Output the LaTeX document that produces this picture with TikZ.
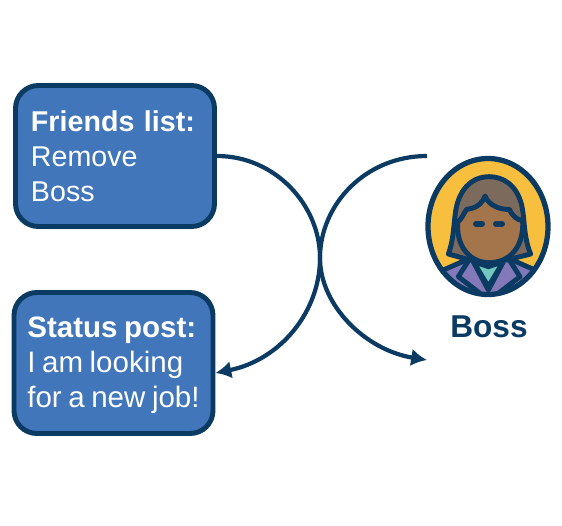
\documentclass[tikz,border=0pt]{standalone}
\usepackage{fontspec}
\setmainfont[WordSpace=0.8]{Liberation Sans}
\usetikzlibrary{arrows.meta, positioning, shapes.geometric}
\definecolor{navy}{HTML}{0B3A62}
\definecolor{boxblue}{HTML}{4176BB}
\definecolor{halo}{HTML}{F8BF3F}
\definecolor{hair}{HTML}{7C6A5C}
\definecolor{skin}{HTML}{A4754A}
\definecolor{jacket}{HTML}{8379B8}
\definecolor{shirt}{HTML}{72C8BF}
\newlength{\pxunit}
\setlength{\pxunit}{0.02cm}
\tikzset{
  msgbox/.style={draw=navy, fill=boxblue, line width=2.8pt, rounded corners=13pt, minimum width=199\pxunit, minimum height=141\pxunit,
    text=white, align=left, inner sep=0pt, font=\fontsize{16.3pt}{19.8pt}\selectfont},
  flow/.style={draw=navy, line width=2.4pt},
  facepart/.style={draw=navy, line width=2.8pt, line join=round}
}
\begin{document}
\begin{tikzpicture}[x=0.02cm, y=-0.02cm]
  \useasboundingbox (0,0) rectangle (562,525);
  \node[msgbox, text width=168\pxunit] (friends) at (115,156) {\textbf{Friends list:}\\Remove\\Boss};
  \node[msgbox, font=\fontsize{16.8pt}{19.8pt}\selectfont] (status) at (113.5,363) {\rule{0pt}{14.4pt}\textbf{Status post:}\\I am looking\\for a new job!};

  % face, drawn in the pixels of a 3x crop
  \coordinate (facecentre) at (488,226.5);
  \fill[halo] (facecentre) ellipse (60 and 68);
  \begin{scope}
    \clip (facecentre) ellipse (60 and 68);
    \begin{scope}[shift={(420,150)}, scale=1/3]
      \draw[facepart, fill=jacket] (60,450) -- (70,360) -- (150,325) -- (205,345) -- (265,325) -- (345,360) -- (360,450) -- cycle;
      \draw[facepart, fill=shirt] (160,335) -- (205,410) -- (250,335) -- (205,350) -- cycle;
      \draw[facepart] (150,325) -- (115,380) -- (180,430);
      \draw[facepart] (265,325) -- (300,380) -- (235,430);
      \draw[facepart] (160,335) -- (205,420) -- (250,335);
      \draw[facepart, fill=hair] (85,312) .. controls (105,260) and (100,200) .. (112,160)
        .. controls (130,100) and (170,80) .. (207,80)
        .. controls (250,80) and (290,105) .. (305,165)
        .. controls (315,210) and (310,260) .. (332,312)
        -- (260,330) -- (150,330) -- cycle;
      \draw[facepart, fill=skin] (113,215) .. controls (125,210) and (130,190) .. (140,178)
        .. controls (165,175) and (185,165) .. (195,138)
        .. controls (205,165) and (240,180) .. (268,178)
        .. controls (275,195) and (290,210) .. (308,212)
        .. controls (312,290) and (270,338) .. (207,338)
        .. controls (150,338) and (108,290) .. (113,215) -- cycle;
      \draw[navy, line width=3.4pt, line cap=round] (168,221) -- (186,221) (228,221) -- (246,221);
    \end{scope}
  \end{scope}
  \node[draw=navy, line width=3pt, ellipse, minimum width=120\pxunit, minimum height=136\pxunit, inner sep=0pt] (bossface) at (facecentre) {};
  \node[text=navy, font=\fontsize{18pt}{19pt}\selectfont\bfseries, anchor=base] (boss) at (489,337) {Boss};

  \coordinate (leaveboss) at (427,156);
  \coordinate (toboss) at (427,360);
  \draw[flow, -{Latex[length=9pt, width=10pt]}] (friends.east) .. controls (275,156) and (320,205) .. (320,258) .. controls (320,312) and (280,360) .. (status.east |- 0,373);
  \draw[flow, -{Latex[length=9pt, width=10pt]}] (leaveboss) .. controls (365,156) and (320,205) .. (320,258) .. controls (320,305) and (365,350) .. (toboss);
\end{tikzpicture}
\end{document}
